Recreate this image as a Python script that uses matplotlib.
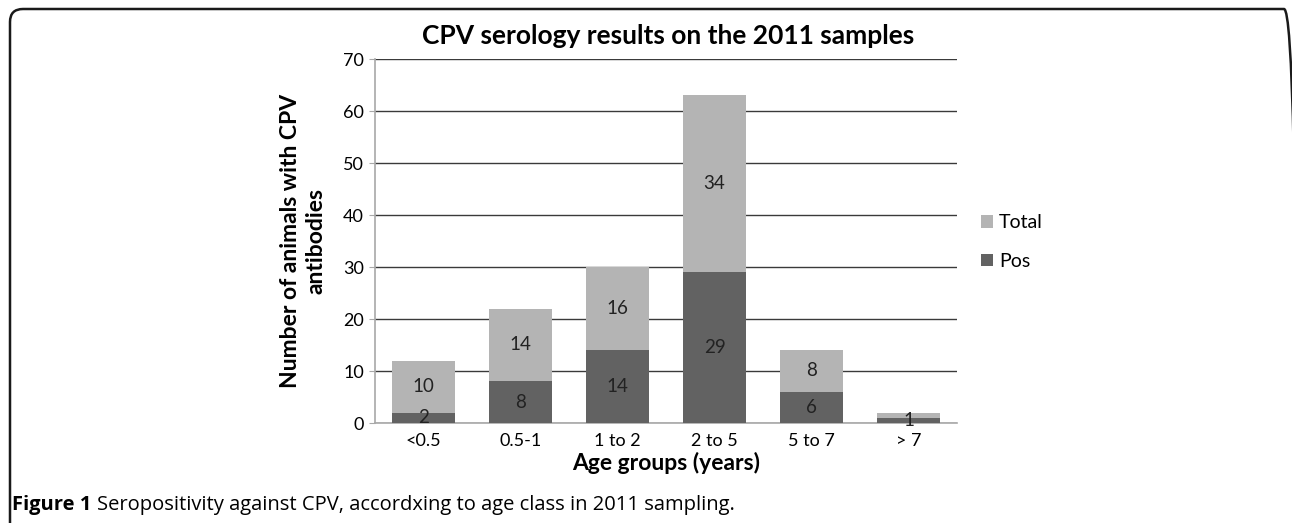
import numpy as np
import matplotlib.pyplot as plt
from matplotlib.patches import FancyBboxPatch

groups = ['<0.5', '0.5-1', '1 to 2', '2 to 5', '5 to 7', '> 7']
pos = [2, 8, 14, 29, 6, 1]
total = [10, 14, 16, 34, 8, 1]

dark = '#626262'
light = '#b4b4b4'

plt.rcParams['font.family'] = ['Lato', 'DejaVu Sans']

W, H = 1292, 523
fig = plt.figure(figsize=(W / 100, H / 100), dpi=100)

# rounded frame in pixel coords (right and bottom sides run off the page)
frame = FancyBboxPatch((10, -60), 1297 - 10, H - 9 + 60,
                       boxstyle='round,pad=0,rounding_size=13',
                       transform=None, fill=False,
                       edgecolor='#1a1a1a', linewidth=1.8)
fig.patches.append(frame)

ax = fig.add_axes([375 / W, 1 - 423 / H, (957 - 375) / W, (423 - 59) / H])

x = np.arange(len(groups))
b1 = ax.bar(x, pos, width=0.64, color=dark, zorder=3, label='Pos')
b2 = ax.bar(x, total, width=0.64, bottom=pos, color=light, zorder=3, label='Total')

for i in range(len(groups)):
    ax.text(x[i], pos[i] / 2, str(pos[i]), ha='center', va='center',
            fontsize=13.5, color='#222222', zorder=4)
    if total[i] >= 2:
        ax.text(x[i], pos[i] + total[i] / 2, str(total[i]), ha='center', va='center',
                fontsize=13.5, color='#222222', zorder=4)

ax.set_xlim(-0.5, len(groups) - 0.5)
ax.set_ylim(0, 70)
ax.set_yticks(range(0, 71, 10))
ax.yaxis.grid(True, color='#3a3a3a', linewidth=1.0, zorder=0)
ax.set_axisbelow(True)
for s in ['top', 'right']:
    ax.spines[s].set_visible(False)
ax.spines['left'].set_color('#a8a8a8')
ax.spines['bottom'].set_color('#a8a8a8')
ax.spines['left'].set_linewidth(1.2)
ax.spines['bottom'].set_linewidth(1.2)
ax.set_xticks(x)
ax.set_xticklabels(groups)
ax.tick_params(axis='x', length=0, labelsize=13, pad=7)
ax.tick_params(axis='y', length=4, color='#a8a8a8', labelsize=13, pad=4)

ax.set_xlabel('Age groups (years)', fontsize=16.5, fontweight='bold', labelpad=2)
ax.set_ylabel('Number of animals with CPV\nantibodies', fontsize=16.5,
              fontweight='bold', labelpad=12, linespacing=1.25)

fig.text(668 / W, 1 - 36 / H, 'CPV serology results on the 2011 samples',
         ha='center', va='center', fontsize=19, fontweight='bold')

fig.legend(handles=[b2, b1], labels=['Total', 'Pos'], loc='center left',
           bbox_to_anchor=(964 / W, 1 - 242 / H), frameon=False, fontsize=14,
           handlelength=0.6, handleheight=0.6, handletextpad=0.3, labelspacing=1.1)

cap_font = ['Open Sans', 'DejaVu Sans']
t1 = fig.text(12 / W, 1 - 505 / H, 'Figure 1', ha='left', va='center',
              fontsize=14.5, fontweight='bold', family=cap_font)
fig.canvas.draw()
bb = t1.get_window_extent()
fig.text((bb.x1 + 6) / W, 1 - 505 / H,
         'Seropositivity against CPV, accordxing to age class in 2011 sampling.',
         ha='left', va='center', fontsize=14.5, family=cap_font)

fig.savefig('out.png', dpi=100)
